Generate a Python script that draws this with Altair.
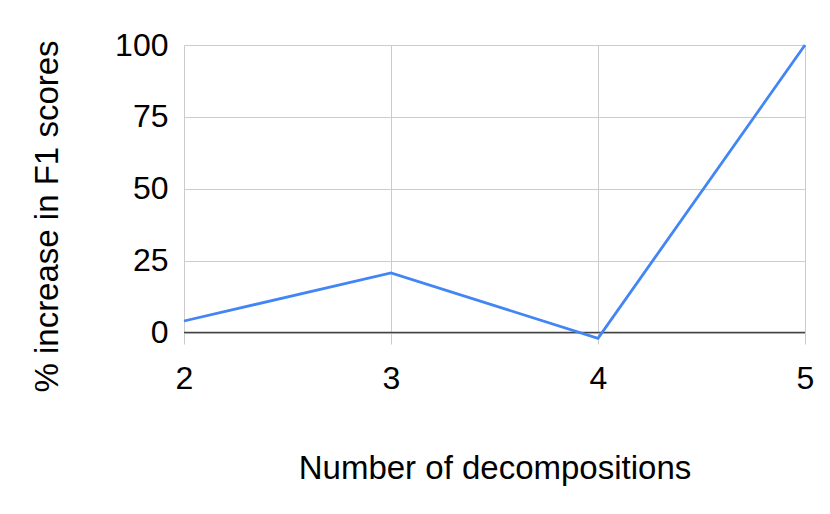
import altair as alt
import pandas as pd

decompositions = [2, 3, 4, 5]
f1_increase = [4.0, 20.7, -2.0, 100.0]
y_ticks = [0, 25, 50, 75, 100]
x_ticks = [2, 3, 4, 5]

df = pd.DataFrame({"n": decompositions, "pct": f1_increase})
zero_df = pd.DataFrame({"z": [0]})

FONT = "Liberation Sans"

x_enc = alt.X(
    "n:Q",
    scale=alt.Scale(domain=[2, 5], nice=False, zero=False),
    axis=alt.Axis(
        values=x_ticks, format="d", title="Number of decompositions",
        ticks=False, domain=False, labelPadding=19, labelFontSize=32,
        labelFlush=False,
        labelColor="#000000", labelFont=FONT, titleFont=FONT, titleFontSize=33,
        titleFontWeight="normal", titleColor="#000000", titleBaseline="middle",
        titleY=124, gridColor="#cccccc", gridWidth=1,
    ),
)
y_enc = alt.Y(
    "pct:Q",
    scale=alt.Scale(domain=[-4, 100], nice=False, zero=False),
    axis=alt.Axis(
        values=y_ticks, title="% increase in F1 scores",
        ticks=False, domain=False, labelPadding=16, labelFontSize=32,
        labelFlush=False,
        labelColor="#000000", labelFont=FONT, titleFont=FONT, titleFontSize=33,
        titleFontWeight="normal", titleColor="#000000", titleBaseline="middle",
        titleX=-137, titleY=171, titleAngle=-90, gridColor="#cccccc", gridWidth=1,
    ),
)

line = alt.Chart(df).mark_line(color="#4285F4", strokeWidth=2.8).encode(x=x_enc, y=y_enc)
zero = alt.Chart(zero_df).mark_rule(color="#444444", strokeWidth=1.5).encode(y=alt.Y("z:Q"))

chart = alt.layer(zero, line).properties(
    width=621, height=299,
    autosize=alt.AutoSizeParams(type="none"),
    padding={"left": 176, "top": 37, "right": 17, "bottom": 160},
).configure_view(stroke=None)

chart.save("out.html", embed_options={"renderer": "svg", "actions": False})
